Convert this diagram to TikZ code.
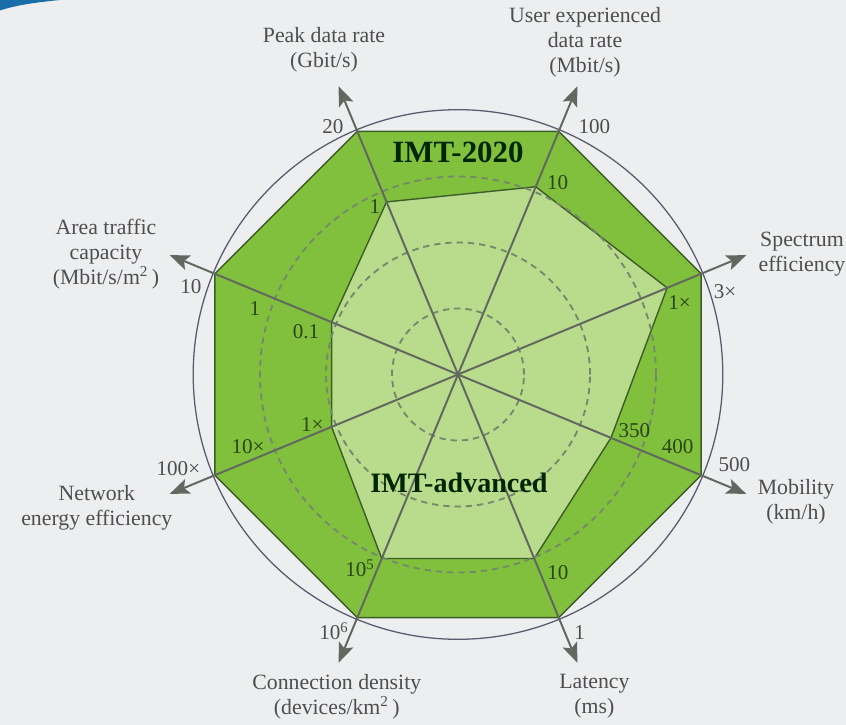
\documentclass[tikz,border=0pt]{standalone}
\usepackage{fontspec}
\setmainfont{Liberation Serif}
\usetikzlibrary{arrows.meta}
\begin{document}
\begin{tikzpicture}
\definecolor{bggray}{RGB}{237,238,239}
\definecolor{outergreen}{RGB}{128,192,60}
\definecolor{innergreen}{RGB}{184,219,140}
\definecolor{edgegreen}{RGB}{62,92,40}
\definecolor{axisgray}{RGB}{98,104,96}
\definecolor{ringgray}{RGB}{118,136,108}
\definecolor{circlegray}{RGB}{88,90,110}
\definecolor{labelgray}{RGB}{78,78,78}
\definecolor{valgreen}{RGB}{42,70,22}
\definecolor{cornerblue}{RGB}{25,110,170}
\tikzset{
  axislabel/.style={align=center, text=labelgray, inner sep=0pt, font=\fontsize{15.5}{17.7}\selectfont},
  outval/.style={text=labelgray, inner sep=0pt, font=\fontsize{15}{17}\selectfont},
  inval/.style={text=valgreen, inner sep=0pt, font=\fontsize{15}{17}\selectfont},
  ring/.style={draw=ringgray, line width=1.3pt, dash pattern=on 4.5pt off 3.5pt},
  axisarrow/.style={draw=axisgray, line width=1.4pt, -{Stealth[length=14pt,width=11pt,inset=3pt]}},
  title/.style={text=black!85!green, inner sep=0pt, font=\bfseries\fontsize{22}{24}\selectfont},
}
\useasboundingbox (-11.45,-8.7625) rectangle (9.7,9.3625);
\fill[bggray] (-11.45,-8.7625) rectangle (9.7,9.3625);
\fill[cornerblue] (-11.45,9.3625) -- (-9.95,9.3625) .. controls (-10.6,9.3) and (-11.1,9.22) .. (-11.45,9.1) -- cycle;

% centre, arrow ends
\coordinate (O) at (0,0);
\coordinate (peak) at (112.5:7.8);
\coordinate (user) at (67.5:7.8);
\coordinate (spec) at (22.5:7.8);
\coordinate (mob) at (-22.5:7.8);
\coordinate (lat) at (-67.5:7.8);
\coordinate (conn) at (-112.5:7.8);
\coordinate (netw) at (-157.5:7.8);
\coordinate (area) at (157.5:7.8);

% IMT-2020 corners
\coordinate (peakA) at (112.5:6.58);
\coordinate (userA) at (67.5:6.58);
\coordinate (specA) at (22.5:6.58);
\coordinate (mobA) at (-22.5:6.58);
\coordinate (latA) at (-67.5:6.58);
\coordinate (connA) at (-112.5:6.58);
\coordinate (netwA) at (-157.5:6.58);
\coordinate (areaA) at (157.5:6.58);

% IMT-advanced corners
\coordinate (peakB) at (112.5:4.67);
\coordinate (userB) at (67.5:5.08);
\coordinate (specB) at (22.5:5.66);
\coordinate (mobB) at (-22.5:4.14);
\coordinate (latB) at (-67.5:4.98);
\coordinate (connB) at (-112.5:4.98);
\coordinate (netwB) at (-157.5:3.42);
\coordinate (areaB) at (157.5:3.42);

\path[fill=outergreen, draw=edgegreen, line width=1pt] (peakA) -- (userA) -- (specA) -- (mobA) -- (latA) -- (connA) -- (netwA) -- (areaA) -- cycle;
\path[fill=innergreen, draw=edgegreen, line width=1pt] (peakB) -- (userB) -- (specB) -- (mobB) -- (latB) -- (connB) -- (netwB) -- (areaB) -- cycle;

\path[ring] (O) circle (1.65);
\path[ring] (O) circle (3.3);
\path[ring] (O) circle (4.95);
\path[draw=circlegray, line width=0.9pt] (O) circle (6.62);

\path[axisarrow] (O) -- (peak);
\path[axisarrow] (O) -- (user);
\path[axisarrow] (O) -- (spec);
\path[axisarrow] (O) -- (mob);
\path[axisarrow] (O) -- (lat);
\path[axisarrow] (O) -- (conn);
\path[axisarrow] (O) -- (netw);
\path[axisarrow] (O) -- (area);

% axis names
\node[axislabel] (peaklab) at (-3.35,8.11) {Peak data rate\\(Gbit/s)};
\node[axislabel] (userlab) at (3.175,8.31) {User experienced\\data rate\\(Mbit/s)};
\node[axislabel] (speclab) at (8.6,3.01) {Spectrum\\efficiency};
\node[axislabel] (moblab) at (8.45,-3.19) {Mobility\\(km/h)};
\node[axislabel] (latlab) at (3.41,-8.05) {Latency\\(ms)};
\node[axislabel] (connlab) at (-3.03,-8.05) {Connection density\\(devices/km\textsuperscript{2}\,)};
\node[axislabel] (netwlab) at (-9.03,-3.34) {Network\\energy efficiency};
\node[axislabel] (arealab) at (-8.8,3.01) {Area traffic\\capacity\\(Mbit/s/m\textsuperscript{2}\,)};

% values
\node[outval] (peakval) at (-3.125,6.21) {20};
\node[outval] (userval) at (3.41,6.21) {100};
\node[outval] (specval) at (6.675,2.06) {3×};
\node[outval] (mobval) at (6.91,-2.26) {500};
\node[outval] (latval) at (3.04,-6.46) {1};
\node[outval] (connval) at (-3.1,-6.42) {10\textsuperscript{6}};
\node[outval] (netwval) at (-6.99,-2.34) {100×};
\node[outval] (areaval) at (-6.675,2.19) {10};

\node[inval] (peakvalB) at (-2.075,4.19) {1};
\node[inval] (uservalB) at (2.49,4.81) {10};
\node[inval] (specvalB) at (5.54,1.81) {1×};
\node[inval] (mobvalB) at (4.41,-1.39) {350};
\node[inval] (mobvalC) at (5.49,-1.81) {400};
\node[inval] (latvalB) at (2.5,-4.94) {10};
\node[inval] (connvalB) at (-2.45,-4.84) {10\textsuperscript{5}};
\node[inval] (netwvalB) at (-3.64,-1.24) {1×};
\node[inval] (netwvalC) at (-5.25,-1.81) {10×};
\node[inval] (areavalB) at (-5.075,1.66) {1};
\node[inval] (areavalC) at (-3.8,1.06) {0.1};

\node[title] (imt2020) at (0,5.56) {IMT-2020};
\node[title, font=\bfseries\fontsize{20}{22}\selectfont] (imtadv) at (0.025,-2.71) {IMT-advanced};
\end{tikzpicture}
\end{document}
